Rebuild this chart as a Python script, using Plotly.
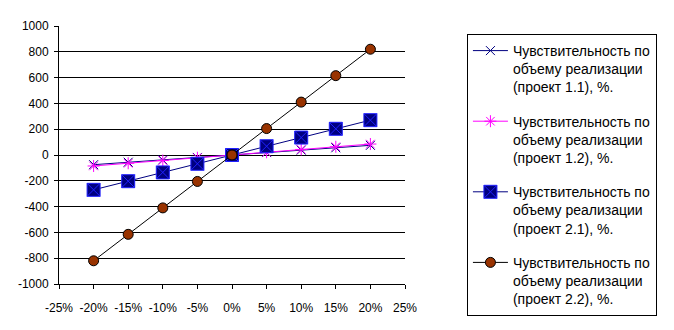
import plotly.graph_objects as go

x_pct = [-20, -15, -10, -5, 0, 5, 10, 15, 20]
proj_11 = [-75, -56, -38, -19, 0, 19, 38, 56, 75]
proj_12 = [-85, -64, -43, -21, 0, 21, 43, 64, 85]
proj_21 = [-270, -203, -135, -68, 0, 68, 135, 203, 270]
proj_22 = [-820, -615, -410, -205, 0, 205, 410, 615, 820]

x_tickvals = [-25, -20, -15, -10, -5, 0, 5, 10, 15, 20, 25]
x_ticktext = ["-25%", "-20%", "-15%", "-10%", "-5%", "0%", "5%", "10%", "15%", "20%", "25%"]
y_tickvals = [-1000, -800, -600, -400, -200, 0, 200, 400, 600, 800, 1000]
y_ticktext = ["-1000", "-800", "-600", "-400", "-200", "0", "200", "400", "600", "800", "1000"]

names = [
    "Чувствительность по<br>объему реализации<br>(проект 1.1), %.",
    "Чувствительность по<br>объему реализации<br>(проект 1.2), %.",
    "Чувствительность по<br>объему реализации<br>(проект 2.1), %.",
    "Чувствительность по<br>объему реализации<br>(проект 2.2), %.",
]

fig = go.Figure()
fig.add_trace(go.Scatter(
    x=x_pct, y=proj_11, name=names[0], mode="lines+markers", legendgroup="a",
    line=dict(color="#000080", width=1),
    marker=dict(symbol="x-thin", size=9, color="#000080", line=dict(color="#000080", width=1)),
))
fig.add_trace(go.Scatter(
    x=x_pct, y=proj_12, name=names[1], mode="lines+markers", legendgroup="b",
    line=dict(color="#ff00ff", width=1),
    marker=dict(symbol="asterisk", size=10, color="#ff00ff", line=dict(color="#ff00ff", width=1)),
))
fig.add_trace(go.Scatter(
    x=x_pct, y=proj_21, name=names[2], mode="lines+markers", legendgroup="c",
    line=dict(color="#000080", width=1),
    marker=dict(symbol="square-x", size=13, color="#000080", line=dict(color="#2020ff", width=1)),
))
fig.add_trace(go.Scatter(
    x=x_pct, y=proj_22, name=names[3], mode="lines+markers", legendgroup="d",
    line=dict(color="#000000", width=1),
    marker=dict(symbol="circle", size=10, color="#993300", line=dict(color="#000000", width=1)),
))

fig.update_layout(
    width=674, height=330,
    margin=dict(l=59, r=269, t=26, b=46),
    paper_bgcolor="white", plot_bgcolor="white",
    font=dict(family="Liberation Sans, Arial", size=12, color="black"),
    showlegend=True,
    legend=dict(
        x=1.179, y=0.969, xanchor="left", yanchor="top",
        bordercolor="black", borderwidth=1, bgcolor="white",
        font=dict(size=14, family="Liberation Sans, Arial", color="black"),
        tracegroupgap=13, itemwidth=35, maxheight=320, valign="top",
    ),
    xaxis=dict(
        range=[-25, 25], tickvals=x_tickvals, ticktext=x_ticktext,
        showgrid=False, zeroline=False, showline=True, linecolor="black", linewidth=1,
        ticks="outside", ticklen=4, tickcolor="black", ticklabelstandoff=9,
    ),
    yaxis=dict(
        range=[-1000, 1000], tickvals=y_tickvals, ticktext=y_ticktext,
        showgrid=True, gridcolor="black", gridwidth=1, zeroline=False,
        showline=True, linecolor="black", linewidth=1,
        ticks="outside", ticklen=4, tickcolor="black", ticklabelstandoff=3,
    ),
)

fig.write_html("out.html")
